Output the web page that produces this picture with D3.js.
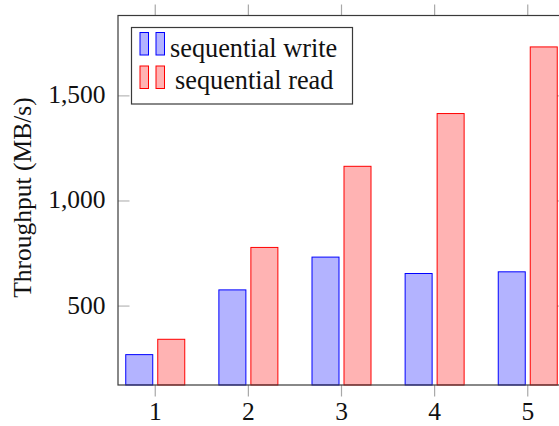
<!DOCTYPE html>
<html>
<head>
<meta charset="utf-8">
<script src="https://cdn.jsdelivr.net/npm/d3@7"></script>
<style>
  body { margin: 0; background: #fff; }
  svg text { font-family: "Liberation Serif", "DejaVu Serif", serif; }
</style>
</head>
<body>
<div id="chart"></div>
<script>
const width = 559;
const height = 426;

// data
const categories = [1, 2, 3, 4, 5];
const seqWrite = [269, 577, 733, 655, 663];
const seqRead = [342, 779, 1165, 1416, 1733];
const yTicks = [500, 1000, 1500];
const seriesNames = ["sequential write", "sequential read"];

const plot = { left: 118, right: 565, top: 15.5, bottom: 385 };
const font = "Liberation Serif, DejaVu Serif, serif";

const svg = d3
    .select("#chart")
    .append("svg")
    .attr("width", width)
    .attr("height", height);

const x = d3.scaleLinear().domain([0.6, 5.4]).range([plot.left, plot.right]);
const y = d3.scaleLinear().domain([124.5, 1882.5]).range([plot.bottom, plot.top]);

const barW = 27;
const offset = 16;

const series = [
    { name: seriesNames[0], values: seqWrite, fill: "#b3b3ff", stroke: "#0000ff", dx: -offset },
    { name: seriesNames[1], values: seqRead, fill: "#ffb3b3", stroke: "#ff0000", dx: offset },
];

// ===== TICKS (drawn under bars) =====
const tickColor = "#a8a8a8";
// y ticks inward on left and right
svg.append("g")
    .selectAll("line")
    .data(yTicks)
    .enter()
    .append("line")
    .attr("x1", plot.left)
    .attr("x2", plot.left + 11.5)
    .attr("y1", (d) => y(d))
    .attr("y2", (d) => y(d))
    .attr("stroke", tickColor)
    .attr("stroke-width", 1);

svg.append("g")
    .selectAll("line")
    .data(yTicks)
    .enter()
    .append("line")
    .attr("x1", plot.right)
    .attr("x2", plot.right - 11.5)
    .attr("y1", (d) => y(d))
    .attr("y2", (d) => y(d))
    .attr("stroke", tickColor)
    .attr("stroke-width", 1);

// x ticks outward on bottom and top
svg.append("g")
    .selectAll("line")
    .data(categories)
    .enter()
    .append("line")
    .attr("x1", (d) => x(d))
    .attr("x2", (d) => x(d))
    .attr("y1", plot.bottom)
    .attr("y2", plot.bottom + 11.5)
    .attr("stroke", tickColor)
    .attr("stroke-width", 1.2);

svg.append("g")
    .selectAll("line")
    .data(categories)
    .enter()
    .append("line")
    .attr("x1", (d) => x(d))
    .attr("x2", (d) => x(d))
    .attr("y1", plot.top)
    .attr("y2", plot.top - 11)
    .attr("stroke", tickColor)
    .attr("stroke-width", 1.2);

// ===== BARS =====
series.forEach((s) => {
    svg.append("g")
        .selectAll("rect")
        .data(categories.map((c, i) => ({ c, v: s.values[i] })))
        .enter()
        .append("rect")
        .attr("x", (d) => x(d.c) + s.dx - barW / 2)
        .attr("y", (d) => y(d.v))
        .attr("width", barW)
        .attr("height", (d) => plot.bottom - y(d.v))
        .attr("fill", s.fill)
        .attr("stroke", s.stroke)
        .attr("stroke-width", 1);
});

// ===== AXIS FRAME =====
svg.append("rect")
    .attr("x", plot.left)
    .attr("y", plot.top)
    .attr("width", plot.right - plot.left)
    .attr("height", plot.bottom - plot.top)
    .attr("fill", "none")
    .attr("stroke", "#3a3a3a")
    .attr("stroke-width", 1.2);

// ===== TICK LABELS =====
const fmt = d3.format(",");
svg.append("g")
    .selectAll("text")
    .data(yTicks)
    .enter()
    .append("text")
    .attr("x", plot.left - 12.5)
    .attr("y", (d) => y(d) + 7.5)
    .attr("text-anchor", "end")
    .attr("font-family", font)
    .attr("font-size", 25.5)
    .attr("fill", "#111")
    .text((d) => fmt(d));

svg.append("g")
    .selectAll("text")
    .data(categories)
    .enter()
    .append("text")
    .attr("x", (d) => x(d))
    .attr("y", 420)
    .attr("text-anchor", "middle")
    .attr("font-family", font)
    .attr("font-size", 25.5)
    .attr("fill", "#111")
    .text((d) => d);

// y label
svg.append("text")
    .attr("transform", "translate(30.5,197.5) rotate(-90)")
    .attr("text-anchor", "middle")
    .attr("font-family", font)
    .attr("font-size", 25.5)
    .attr("fill", "#111")
    .text("Throughput (MB/s)");

// ===== LEGEND =====
const legend = svg.append("g");
legend.append("rect")
    .attr("x", 131.5)
    .attr("y", 27.5)
    .attr("width", 221)
    .attr("height", 76.5)
    .attr("fill", "#fff")
    .attr("stroke", "#3a3a3a")
    .attr("stroke-width", 1.2);

const legendRows = [
    { s: series[0], top: 32.5, h: 22.5, tx: 170, ty: 56.5 },
    { s: series[1], top: 66, h: 22.5, tx: 175, ty: 88.5 },
];
legendRows.forEach((r) => {
    [140, 156].forEach((lx) => {
        legend.append("rect")
            .attr("x", lx)
            .attr("y", r.top)
            .attr("width", 8.5)
            .attr("height", r.h)
            .attr("fill", r.s.fill)
            .attr("stroke", r.s.stroke)
            .attr("stroke-width", 1);
    });
    legend.append("text")
        .attr("x", r.tx)
        .attr("y", r.ty)
        .attr("font-family", font)
        .attr("font-size", 26.3)
        .attr("fill", "#111")
        .text(r.s.name);
});
</script>
</body>
</html>
